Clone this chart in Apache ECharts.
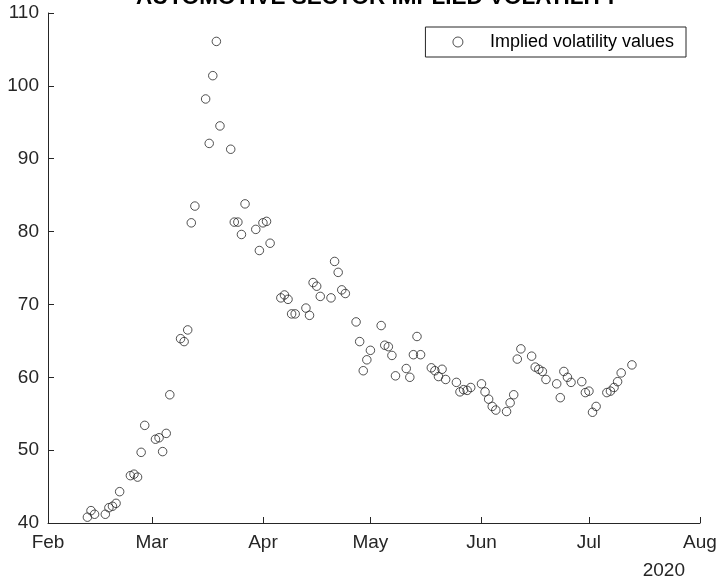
<!DOCTYPE html>
<html>
<head>
<meta charset="utf-8">
<script src="https://cdn.jsdelivr.net/npm/echarts@6/dist/echarts.min.js"></script>
<style>
  html, body { margin: 0; padding: 0; background: #fff; }
  #chart { width: 725px; height: 583px; }
</style>
</head>
<body>
<div id="chart"></div>
<script>
// Trading days (weekdays) with the implied volatility observed on each
const dates = [
  '2020-02-12','2020-02-13','2020-02-14',
  '2020-02-17','2020-02-18','2020-02-19','2020-02-20','2020-02-21',
  '2020-02-24','2020-02-25','2020-02-26','2020-02-27','2020-02-28',
  '2020-03-02','2020-03-03','2020-03-04','2020-03-05','2020-03-06',
  '2020-03-09','2020-03-10','2020-03-11','2020-03-12','2020-03-13',
  '2020-03-16','2020-03-17','2020-03-18','2020-03-19','2020-03-20',
  '2020-03-23','2020-03-24','2020-03-25','2020-03-26','2020-03-27',
  '2020-03-30','2020-03-31','2020-04-01','2020-04-02','2020-04-03',
  '2020-04-06','2020-04-07','2020-04-08','2020-04-09','2020-04-10',
  '2020-04-13','2020-04-14','2020-04-15','2020-04-16','2020-04-17',
  '2020-04-20','2020-04-21','2020-04-22','2020-04-23','2020-04-24',
  '2020-04-27','2020-04-28','2020-04-29','2020-04-30','2020-05-01',
  '2020-05-04','2020-05-05','2020-05-06','2020-05-07','2020-05-08',
  '2020-05-11','2020-05-12','2020-05-13','2020-05-14','2020-05-15',
  '2020-05-18','2020-05-19','2020-05-20','2020-05-21','2020-05-22',
  '2020-05-25','2020-05-26','2020-05-27','2020-05-28','2020-05-29',
  '2020-06-01','2020-06-02','2020-06-03','2020-06-04','2020-06-05',
  '2020-06-08','2020-06-09','2020-06-10','2020-06-11','2020-06-12',
  '2020-06-15','2020-06-16','2020-06-17','2020-06-18','2020-06-19',
  '2020-06-22','2020-06-23','2020-06-24','2020-06-25','2020-06-26',
  '2020-06-29','2020-06-30','2020-07-01','2020-07-02','2020-07-03',
  '2020-07-06','2020-07-07','2020-07-08','2020-07-09','2020-07-10',
  '2020-07-13'
];

const impliedVol = [
  40.8, 41.7, 41.2,
  41.2, 42.1, 42.3, 42.7, 44.3,
  46.5, 46.7, 46.3, 49.7, 53.4,
  51.5, 51.7, 49.8, 52.3, 57.6,
  65.3, 64.9, 66.5, 81.2, 83.5,
  98.2, 92.1, 101.4, 106.1, 94.5,
  91.3, 81.3, 81.3, 79.6, 83.8,
  80.3, 77.4, 81.2, 81.4, 78.4,
  70.9, 71.3, 70.7, 68.7, 68.7,
  69.5, 68.5, 73.0, 72.5, 71.1,
  70.9, 75.9, 74.4, 72.0, 71.5,
  67.6, 64.9, 60.9, 62.4, 63.7,
  67.1, 64.4, 64.2, 63.0, 60.2,
  61.2, 60.0, 63.1, 65.6, 63.1,
  61.3, 60.9, 60.1, 61.1, 59.7,
  59.3, 58.0, 58.3, 58.2, 58.6,
  59.1, 58.0, 57.0, 56.0, 55.5,
  55.3, 56.5, 57.6, 62.5, 63.9,
  62.9, 61.4, 61.1, 60.8, 59.7,
  59.1, 57.2, 60.8, 60.0, 59.3,
  59.4, 57.9, 58.1, 55.2, 56.0,
  57.9, 58.1, 58.6, 59.4, 60.6,
  61.7
];

const monthNames = ['Jan','Feb','Mar','Apr','May','Jun','Jul','Aug','Sep','Oct','Nov','Dec'];
const yTicks = { min: 40, max: 110, step: 10 };
const xRange = { min: '2020-02-01', max: '2020-08-01' };
const yearLabel = '2020';
const seriesName = 'Implied volatility values';
const chartTitle = 'AUTOMOTIVE SECTOR IMPLIED VOLATILITY';

const axisColor = '#262626';
const fontFamily = 'Liberation Sans, Arial, Helvetica, sans-serif';

const points = dates.map((d, i) => [d, impliedVol[i]]);

const chart = echarts.init(document.getElementById('chart'), null, { renderer: 'canvas' });

chart.setOption({
  backgroundColor: '#ffffff',
  animation: false,
  title: {
    text: chartTitle,
    left: 136,
    top: -14,
    padding: 0,
    textStyle: { fontFamily, fontSize: 22.5, fontWeight: 'bold', color: '#000' }
  },
  grid: {
    left: 48, right: 25, top: 13, bottom: 60,
    containLabel: false,
    outerBoundsMode: 'none'
  },
  legend: {
    data: [{ name: seriesName, icon: 'circle' }],
    right: 39,
    top: 27,
    orient: 'horizontal',
    backgroundColor: '#fff',
    borderColor: axisColor,
    borderWidth: 1,
    padding: [6, 12, 6, 27],
    itemWidth: 10,
    itemHeight: 10,
    itemGap: 0,
    textStyle: { fontFamily, fontSize: 18, color: '#000', padding: [0, 0, 0, 22] },
    itemStyle: { color: 'transparent', borderColor: '#262626', borderWidth: 1 }
  },
  xAxis: {
    type: 'time',
    min: xRange.min,
    max: xRange.max,
    splitNumber: 6,
    axisLine: { show: true, lineStyle: { color: axisColor, width: 1 } },
    axisTick: { show: true, inside: true, length: 6, lineStyle: { color: axisColor } },
    axisLabel: {
      fontFamily, fontSize: 19, color: '#262626', margin: 10,
      showMinLabel: true, showMaxLabel: true,
      formatter: (val) => monthNames[new Date(val).getMonth()]
    },
    splitLine: { show: false }
  },
  yAxis: {
    type: 'value',
    min: yTicks.min,
    max: yTicks.max,
    interval: yTicks.step,
    axisLine: { show: true, lineStyle: { color: axisColor, width: 1 } },
    axisTick: { show: true, inside: true, length: 6, lineStyle: { color: axisColor } },
    axisLabel: { fontFamily, fontSize: 19, color: '#262626', margin: 9 },
    splitLine: { show: false }
  },
  graphic: [{
    type: 'text',
    right: 40,
    top: 561,
    style: { text: yearLabel, fontFamily, fontSize: 19, fill: '#262626' }
  }],
  series: [{
    name: seriesName,
    type: 'scatter',
    data: points,
    symbol: 'circle',
    symbolSize: 8.5,
    itemStyle: { color: 'transparent', borderColor: '#262626', borderWidth: 1 }
  }]
});
</script>
</body>
</html>
